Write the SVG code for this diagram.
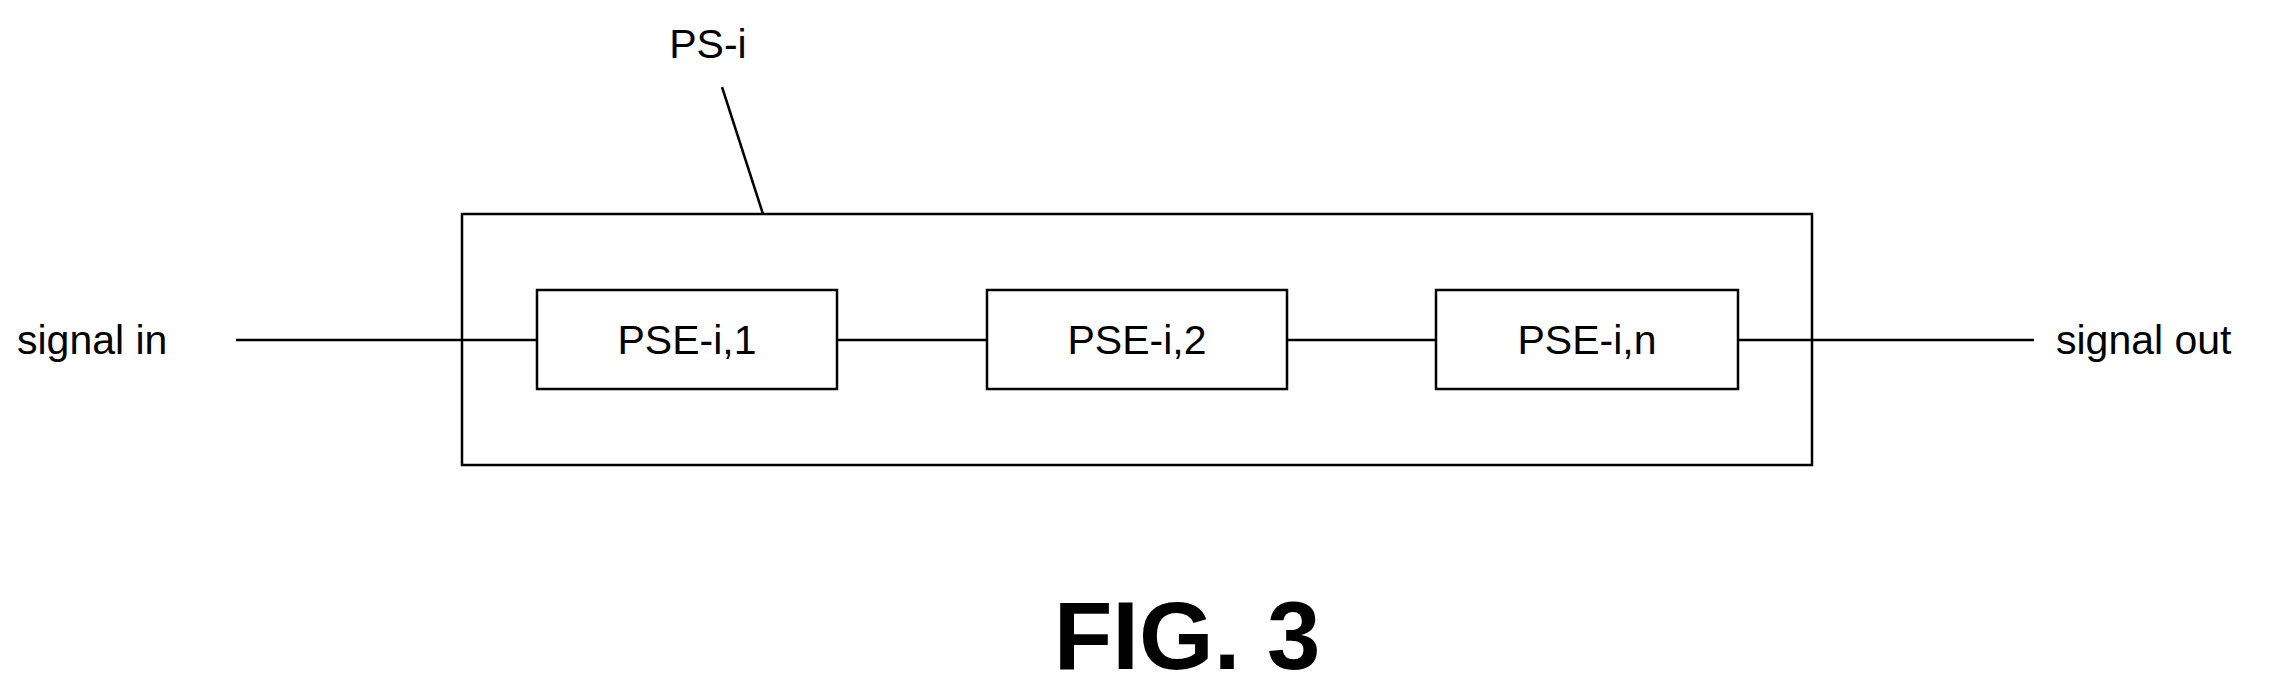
<svg xmlns="http://www.w3.org/2000/svg" width="2286" height="689" viewBox="0 0 2286 689">
<style>
.b{fill:#fff;stroke:#000;stroke-width:2.5}
.l{stroke:#000;stroke-width:2.5;fill:none}
text{font-family:"Liberation Sans",Arial,sans-serif;font-size:41px;fill:#000}
.c{text-anchor:middle}
</style>
<rect width="2286" height="689" fill="#fff"/>
<g id="connectors">
<line class="l" x1="236" y1="340" x2="537" y2="340"/>
<line class="l" x1="837" y1="340" x2="987" y2="340"/>
<line class="l" x1="1287" y1="340" x2="1436" y2="340"/>
<line class="l" x1="1738" y1="340" x2="2034" y2="340"/>
<line class="l" x1="722" y1="87" x2="763" y2="214"/>
</g>
<g id="PS-i">
<rect class="l" x="462" y="214" width="1350" height="251"/>
<text class="c" x="708" y="58">PS-i</text>
</g>
<g id="PSE1"><rect class="b" x="537" y="290" width="300" height="99"/><text class="c" x="687" y="354">PSE-i,1</text></g>
<g id="PSE2"><rect class="b" x="987" y="290" width="300" height="99"/><text class="c" x="1137" y="354">PSE-i,2</text></g>
<g id="PSEn"><rect class="b" x="1436" y="290" width="302" height="99"/><text class="c" x="1587" y="354">PSE-i,n</text></g>
<g id="in"><text x="17" y="354">signal in</text></g>
<g id="out"><text x="2056" y="354">signal out</text></g>
<text class="c" x="1187" y="669" style="font-size:96px;font-weight:bold">FIG. 3</text>
</svg>
